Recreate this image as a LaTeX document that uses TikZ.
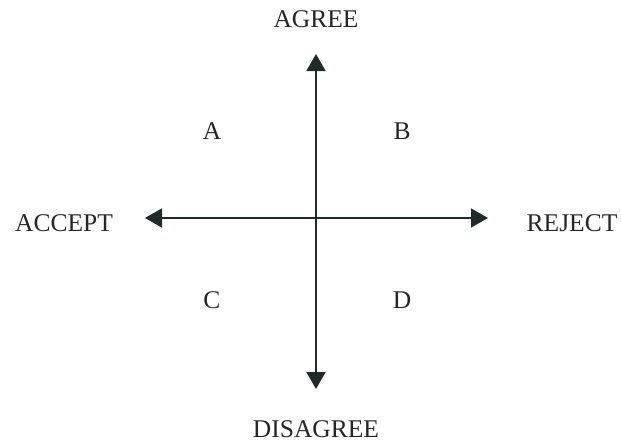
\documentclass[tikz,border=0pt]{standalone}
\usepackage{fontspec}
\setmainfont{Liberation Serif}
\usepackage{tikz}
\usetikzlibrary{arrows.meta, positioning}
\definecolor{axisdk}{HTML}{1E2B29}
\definecolor{labdk}{HTML}{262626}
\tikzset{
  axisline/.style = {draw=axisdk, line width=1.6pt,
                     {Triangle[length=17pt, width=19pt]}-{Triangle[length=17pt, width=19pt]}},
  poletag/.style  = {font=\fontsize{25.5}{28}\selectfont, text=labdk, inner sep=0pt},
  quadtag/.style  = {poletag},
}

\begin{document}
\begin{tikzpicture}[x=1pt, y=1pt]
  \useasboundingbox (0,0) rectangle (621,-445);
  % axis ends
  \coordinate (agreeend)    at (316,-54);
  \coordinate (disagreeend) at (316,-389);
  \coordinate (acceptend)   at (145,-218);
  \coordinate (rejectend)   at (488,-218);
  \draw[axisline] (agreeend) -- (disagreeend);
  \draw[axisline] (acceptend) -- (rejectend);
  % pole labels
  \node[poletag] (agree)    at (316,-19)  {AGREE};
  \node[poletag] (disagree) at (316,-429) {DISAGREE};
  \node[poletag] (accept)   at (64,-223)  {ACCEPT};
  \node[poletag] (reject)   at (572,-223) {REJECT};
  % quadrants
  \node[quadtag] (qa) at (212,-131) {A};
  \node[quadtag] (qb) at (402,-131) {B};
  \node[quadtag] (qc) at (212,-300) {C};
  \node[quadtag] (qd) at (402,-300) {D};
\end{tikzpicture}
\end{document}
